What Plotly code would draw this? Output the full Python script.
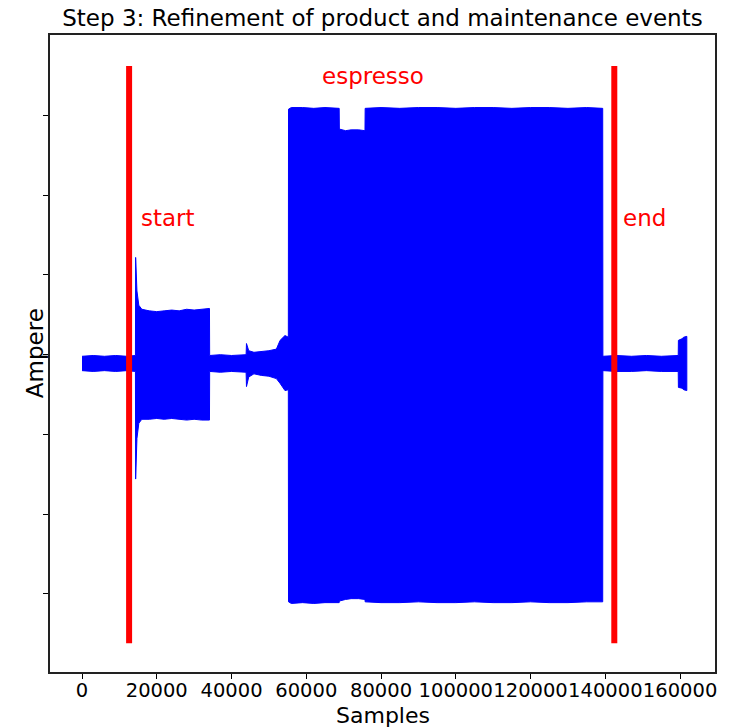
import plotly.graph_objects as go

# ---- data (envelope of the current signal) ----
samples = [
    0, 3000, 6000, 9000, 12000, 14300,
    14350, 14700, 15200, 16000, 18000, 20000, 22000, 24000, 26000,
    28000, 30000, 32000, 34100,
    34150, 37000, 40000, 43900,
    44000, 44600, 46000, 48000, 50000, 52000, 53000, 54300, 55200,
    55250, 56000, 59000, 62000, 65000, 68800,
    68850, 70500, 72000, 74000, 75700,
    75750, 80000, 85000, 90000, 95000, 100000, 105000, 110000, 115000,
    120000, 125000, 130000, 135000, 139300,
    139350, 143000, 147000, 151000, 155000, 159500,
    159550, 160500, 161000, 161800,
]
ampere_upper = [
    -0.02, -0.01, -0.02, -0.01, -0.02, -0.01,
    1.22, 0.80, 0.62, 0.57, 0.55, 0.54, 0.55, 0.56, 0.55,
    0.57, 0.56, 0.57, 0.58,
    -0.01, 0.00, -0.01, 0.00,
    0.14, 0.05, 0.03, 0.04, 0.05, 0.07, 0.18, 0.24, 0.22,
    3.08, 3.10, 3.10, 3.09, 3.10, 3.09,
    2.83, 2.81, 2.82, 2.82, 2.81,
    3.09, 3.10, 3.09, 3.10, 3.10, 3.09, 3.10, 3.10, 3.09,
    3.10, 3.10, 3.09, 3.10, 3.09,
    -0.02, -0.01, -0.02, -0.01, -0.02, -0.01,
    0.18, 0.20, 0.22, 0.23,
]
ampere_lower = [
    -0.20, -0.21, -0.20, -0.21, -0.20, -0.21,
    -1.56, -1.05, -0.86, -0.81, -0.81, -0.80, -0.81, -0.80, -0.81,
    -0.82, -0.81, -0.82, -0.82,
    -0.21, -0.22, -0.21, -0.22,
    -0.40, -0.28, -0.24, -0.26, -0.27, -0.30, -0.36, -0.45, -0.44,
    -3.10, -3.12, -3.11, -3.12, -3.11, -3.11,
    -3.09, -3.07, -3.06, -3.06, -3.07,
    -3.10, -3.11, -3.11, -3.10, -3.11, -3.11, -3.10, -3.11, -3.11,
    -3.10, -3.11, -3.11, -3.10, -3.10,
    -0.20, -0.21, -0.21, -0.20, -0.21, -0.21,
    -0.41, -0.42, -0.44, -0.45,
]

event_samples = [12600, 142400]
event_range = [-3.62, 3.62]

labels = ["start", "espresso", "end"]
label_samples = [15200, 77800, 144300]
label_ampere = [1.71, 3.50, 1.71]
label_anchor = ["left", "center", "left"]

y_ticks = [-3, -2, -1, 0, 1, 2, 3]
x_ticks = [0, 20000, 40000, 60000, 80000, 100000, 120000, 140000, 160000]
x_tick_text = [str(v) for v in x_ticks]

FONT = "DejaVu Sans"

fig = go.Figure()

# signal envelope as a filled band
fig.add_trace(go.Scatter(
    x=samples + samples[::-1],
    y=ampere_upper + ampere_lower[::-1],
    mode="lines",
    fill="toself",
    fillcolor="#0000ff",
    line=dict(color="#0000ff", width=1),
    hoverinfo="skip",
    showlegend=False,
))

# event boundary lines
for s in event_samples:
    fig.add_trace(go.Scatter(
        x=[s, s], y=event_range, mode="lines",
        line=dict(color="#ff0000", width=6),
        showlegend=False, hoverinfo="skip",
    ))

for txt, xs, ys, anc in zip(labels, label_samples, label_ampere, label_anchor):
    fig.add_annotation(
        x=xs, y=ys, xref="x", yref="y", text=txt, showarrow=False,
        xanchor=anc, yanchor="middle",
        font=dict(family=FONT, size=23, color="#ff0000"),
    )

# axis titles
fig.add_annotation(
    x=0.5, y=-0.069, xref="paper", yref="paper", text="Samples",
    showarrow=False, xanchor="center", yanchor="middle",
    font=dict(family=FONT, size=22, color="#000000"),
)
fig.add_annotation(
    x=-0.023, y=0.5, xref="paper", yref="paper", text="Ampere",
    showarrow=False, xanchor="center", yanchor="middle", textangle=-90,
    font=dict(family=FONT, size=23, color="#000000"),
)

fig.update_layout(
    width=733, height=728,
    margin=dict(l=50, r=18, t=35, b=56, autoexpand=False),
    paper_bgcolor="white", plot_bgcolor="white",
    title=dict(
        text="Step 3: Refinement of product and maintenance events",
        x=0.5218, xanchor="center", y=0.975, yanchor="middle",
        font=dict(family=FONT, size=23, color="#000000"),
    ),
    font=dict(family=FONT, color="#000000"),
    showlegend=False,
)
fig.update_xaxes(
    range=[-8560, 169340],
    tickvals=x_ticks, ticktext=x_tick_text, tickangle=0, automargin=False,
    ticks="outside", ticklen=5, tickwidth=1.2, tickcolor="#000000",
    ticklabelstandoff=-5,
    tickfont=dict(family=FONT, size=19.5, color="#000000"),
    showline=True, linecolor="#222222", linewidth=1.5, mirror=True,
    showgrid=False, zeroline=False,
)
fig.update_yaxes(
    range=[-3.98, 4.01], automargin=False,
    tickvals=y_ticks, showticklabels=False,
    ticks="outside", ticklen=5, tickwidth=1.2, tickcolor="#000000",
    showline=True, linecolor="#222222", linewidth=1.5, mirror=True,
    showgrid=False, zeroline=False,
)

fig.write_html("out.html")
